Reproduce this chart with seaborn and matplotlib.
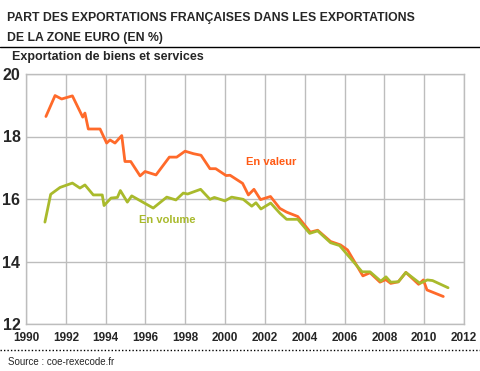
import matplotlib
matplotlib.use("Agg")
import matplotlib.pyplot as plt
from matplotlib.lines import Line2D
import seaborn as sns

# share of French exports in euro-zone exports (%), vertices
valeur_years = [1991.0, 1991.46, 1991.79, 1992.33, 1992.85, 1992.96, 1993.13, 1993.72,
                1994.05, 1994.22, 1994.47, 1994.81, 1994.97, 1995.26, 1995.73, 1995.98,
                1996.53, 1997.2, 1997.57, 1997.99, 1998.41, 1998.79, 1999.24, 1999.53,
                2000.05, 2000.25, 2000.88, 2001.17, 2001.45, 2001.78, 2002.28, 2002.75,
                2003.09, 2003.65, 2004.28, 2004.65, 2005.3, 2005.8, 2006.15, 2006.92,
                2007.28, 2007.78, 2008.07, 2008.32, 2008.7, 2009.08, 2009.72, 2009.96,
                2010.14, 2010.96]
valeur = [18.64, 19.31, 19.20, 19.30, 18.62, 18.75, 18.24, 18.24,
          17.79, 17.89, 17.79, 18.03, 17.20, 17.20, 16.74, 16.88,
          16.77, 17.34, 17.34, 17.53, 17.45, 17.40, 16.97, 16.97,
          16.75, 16.76, 16.50, 16.13, 16.31, 15.98, 16.08, 15.70,
          15.58, 15.44, 14.94, 15.00, 14.64, 14.53, 14.37, 13.54,
          13.64, 13.34, 13.42, 13.30, 13.35, 13.65, 13.27, 13.41,
          13.09, 12.88]

volume_years = [1990.95, 1991.24, 1991.71, 1992.33, 1992.71, 1992.96, 1993.38, 1993.83,
                1993.92, 1994.27, 1994.59, 1994.74, 1995.09, 1995.31, 1996.39, 1997.07,
                1997.53, 1997.9, 1998.12, 1998.77, 1999.24, 1999.46, 1999.99, 2000.33,
                2000.91, 2001.34, 2001.55, 2001.8, 2002.29, 2002.76, 2003.09, 2003.65,
                2004.25, 2004.65, 2005.3, 2005.75, 2006.88, 2007.28, 2007.82, 2008.08,
                2008.32, 2008.7, 2009.08, 2009.79, 2010.16, 2010.42, 2011.2]
volume = [15.26, 16.15, 16.37, 16.51, 16.35, 16.45, 16.13, 16.13,
          15.79, 16.03, 16.05, 16.27, 15.90, 16.10, 15.71, 16.06,
          15.97, 16.19, 16.16, 16.31, 15.99, 16.05, 15.94, 16.06,
          15.99, 15.77, 15.88, 15.68, 15.87, 15.54, 15.35, 15.35,
          14.90, 14.98, 14.60, 14.51, 13.67, 13.67, 13.37, 13.51,
          13.34, 13.35, 13.65, 13.30, 13.41, 13.39, 13.16]

x_ticks = list(range(1990, 2013, 2))
y_ticks = [12, 14, 16, 18, 20]

orange = "#FF6a2a"
green = "#A9BA2C"

sns.set_style("white")
plt.rcParams["font.family"] = ["Liberation Sans", "DejaVu Sans"]

fig = plt.figure(figsize=(4.8, 3.71), dpi=100)
ax = fig.add_axes([26 / 480, 1 - 324 / 371, 438 / 480, 250 / 371])

sns.lineplot(x=valeur_years, y=valeur, ax=ax, color=orange, lw=2)
sns.lineplot(x=volume_years, y=volume, ax=ax, color=green, lw=2)

ax.set_xlim(1990, 2012)
ax.set_ylim(12, 20)
ax.set_xticks(x_ticks)
ax.set_yticks(y_ticks)
ax.grid(True, color="#bdbdbd", lw=1)
ax.set_axisbelow(True)
for s in ax.spines.values():
    s.set_color("#bdbdbd")
    s.set_linewidth(1)
ax.tick_params(length=0)
for lab in ax.get_xticklabels():
    lab.set_fontsize(8.5)
    lab.set_fontweight("bold")
for lab in ax.get_yticklabels():
    lab.set_fontsize(11.5)
    lab.set_fontweight("bold")
ax.tick_params(axis="x", pad=6)
ax.tick_params(axis="y", pad=4)

ax.text(2001.05, 17.1, "En valeur", color="#FF5a14", fontsize=8,
        fontweight="bold")
ax.text(1995.7, 15.23, "En volume", color=green, fontsize=8,
        fontweight="bold")

fig.text(7 / 480, 1 - 21 / 371, "PART DES EXPORTATIONS FRANÇAISES DANS LES EXPORTATIONS",
         fontsize=8.8, fontweight="bold")
fig.text(7 / 480, 1 - 41 / 371, "DE LA ZONE EURO (EN %)",
         fontsize=8.8, fontweight="bold")
fig.add_artist(Line2D([0, 1], [1 - 47 / 371] * 2, color="black", lw=1))
fig.text(12 / 480, 1 - 60 / 371, "Exportation de biens et services",
         fontsize=9, fontweight="bold")
fig.add_artist(Line2D([0, 1], [1 - 350 / 371] * 2, color="black", lw=1, ls=(0, (1, 1.5))))
fig.text(8 / 480, 1 - 365 / 371, "Source : coe-rexecode.fr", fontsize=7)

fig.savefig("out.png", dpi=100)
